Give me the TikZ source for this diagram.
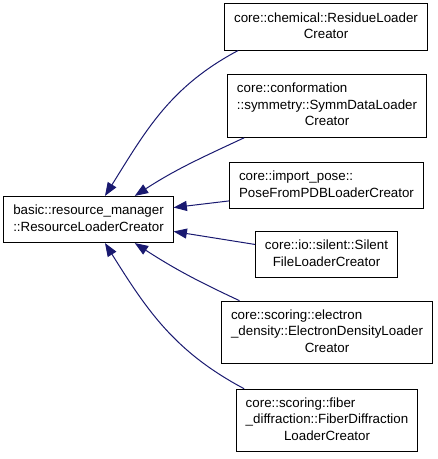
\documentclass[tikz,border=0pt]{standalone}
\usepackage{fontspec}
\setmainfont{Liberation Sans}
\usetikzlibrary{arrows.meta}
\definecolor{edgeblue}{HTML}{191970}
\newcommand{\lastline}[1]{\multicolumn{1}{@{}c@{}}{#1}}
\tikzset{classbox/.style={draw=black,fill=white,line width=.75pt,inner xsep=7pt,inner ysep=4.9pt,font=\fontsize{10}{12.4}\selectfont},
  inherit/.style={draw=edgeblue,line width=.75pt,-{Triangle[length=10pt,width=7.5pt,fill=edgeblue]}}}

\begin{document}
\begin{tikzpicture}[x=0.75pt,y=-0.75pt]
\useasboundingbox (0,0) rectangle (437,459);
\node[classbox] (base) at (88.5,219.5) {\begin{tabular}{@{}l@{}}basic::resource\_manager\\::ResourceLoaderCreator\end{tabular}};
\node[classbox] (chem) at (326,27) {\begin{tabular}{@{}l@{}}core::chemical::ResidueLoader\\\lastline{Creator}\end{tabular}};
\node[classbox] (symm) at (327,106) {\begin{tabular}{@{}l@{}}core::conformation\\::symmetry::SymmDataLoader\\\lastline{Creator}\end{tabular}};
\node[classbox] (pose) at (326.5,185.5) {\begin{tabular}{@{}l@{}}core::import\_pose::\\PoseFromPDBLoaderCreator\end{tabular}};
\node[classbox] (silent) at (326.5,254.5) {\begin{tabular}{@{}c@{}}core::io::silent::Silent\\FileLoaderCreator\end{tabular}};
\node[classbox] (edens) at (327,332.5) {\begin{tabular}{@{}l@{}}core::scoring::electron\\\_density::ElectronDensityLoader\\\lastline{Creator}\end{tabular}};
\node[classbox] (fiber) at (327,420.5) {\begin{tabular}{@{}l@{}}core::scoring::fiber\\\_diffraction::FiberDiffraction\\\lastline{LoaderCreator}\end{tabular}};
% inheritance edges
\draw[inherit] (chem.195) to[out=208,in=58] (base.55);
\draw[inherit] (symm.201) to[out=205,in=33] (base.27);
\draw[inherit] (pose.189) -- (base.8);
\draw[inherit] (silent.172) -- (base.-8);
\draw[inherit] (edens.160) to[out=155,in=-33] (base.-27);
\draw[inherit] (fiber.159) to[out=152,in=-58] (base.-55);
\end{tikzpicture}
\end{document}
